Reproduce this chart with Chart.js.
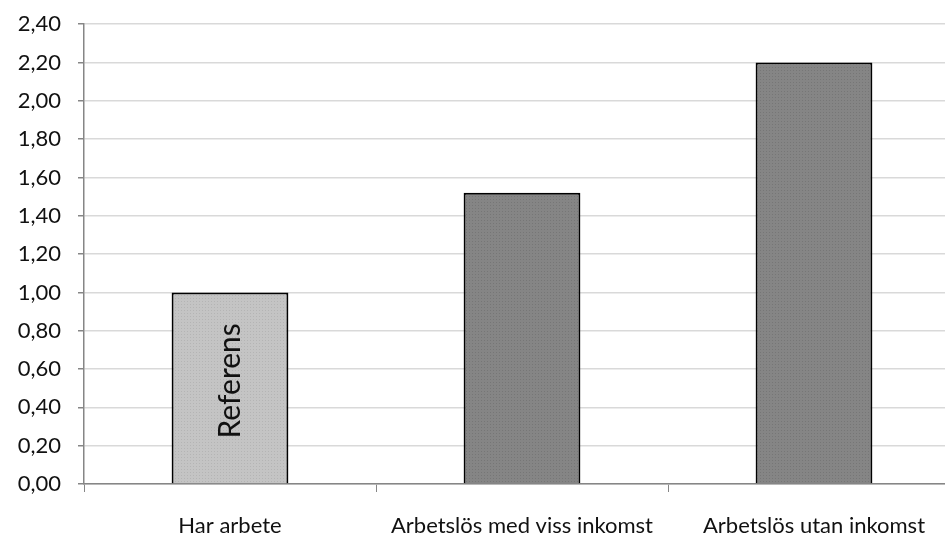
<!DOCTYPE html>
<html>
<head>
<meta charset="utf-8">
<script src="https://cdn.jsdelivr.net/npm/chart.js@4/dist/chart.umd.min.js"></script>
<style>
  html, body { margin: 0; padding: 0; background: #fff; overflow: hidden; }
  #wrap { width: 975px; height: 544px; margin-top: -6px; }
</style>
</head>
<body>
<div id="wrap"><canvas id="myChart" width="975" height="544"></canvas></div>
<script>
let categories = ['Har arbete', 'Arbetslös med viss inkomst', 'Arbetslös utan inkomst'];
let values = [1.00, 1.52, 2.20];
let barColors = ['#c0c0c0', '#808080', '#808080'];
let barNote = 'Referens';

function dots(base, dot) {
  let c = document.createElement('canvas');
  c.width = 3; c.height = 3;
  let x = c.getContext('2d');
  x.fillStyle = base; x.fillRect(0, 0, 3, 3);
  x.fillStyle = dot; x.fillRect(1, 1, 1, 1);
  return x.createPattern(c, 'repeat');
}

let ctx = document.getElementById('myChart').getContext('2d');
let fills = [dots('#c4c4c4', '#b4b4b4'), dots('#858585', '#767676'), dots('#858585', '#767676')];

let notePlugin = {
  id: 'note',
  afterDatasetsDraw(chart) {
    let bar = chart.getDatasetMeta(0).data[0];
    let c = chart.ctx;
    c.save();
    c.translate(bar.x, (bar.y + bar.base) / 2 - 7);
    c.rotate(-Math.PI / 2);
    c.fillStyle = '#111';
    c.font = '30px Lato';
    c.textAlign = 'center';
    c.textBaseline = 'middle';
    c.fillText(barNote, 0, 0);
    c.restore();
  }
};

new Chart(ctx, {
  type: 'bar',
  data: {
    labels: categories,
    datasets: [{
      data: values,
      backgroundColor: fills,
      borderColor: '#000',
      borderWidth: 2,
      barPercentage: 0.4,
      categoryPercentage: 1
    }]
  },
  options: {
    responsive: false,
    animation: false,
    devicePixelRatio: 1,
    layout: { padding: { left: 0, top: 18, right: 15, bottom: 0 } },
    plugins: { legend: { display: false }, tooltip: { enabled: false } },
    scales: {
      x: {
        afterFit(s) { s.height = 54; },
        grid: { drawOnChartArea: false, tickLength: 8, color: '#868686', offset: true },
        border: { color: '#868686', width: 1.5 },
        ticks: { color: '#111', font: { family: 'Lato', size: 22 }, padding: 21, maxRotation: 0, autoSkip: false }
      },
      y: {
        min: 0, max: 2.4,
        afterFit(s) { s.width = 84; },
        grid: { color: '#d9d9d9', lineWidth: 1.5, tickLength: 6, tickColor: '#868686' },
        border: { color: '#868686', width: 1.5 },
        ticks: {
          stepSize: 0.2,
          autoSkip: false,
          color: '#111',
          padding: 17,
          font: { family: 'Lato', size: 22 },
          callback: v => v.toFixed(2).replace('.', ',')
        }
      }
    }
  },
  plugins: [notePlugin]
});
</script>
</body>
</html>
